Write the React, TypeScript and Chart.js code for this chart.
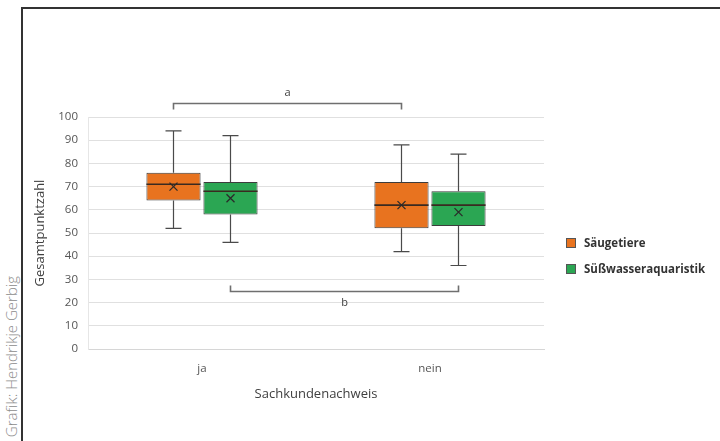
import React, { useEffect, useRef } from 'react';
import { Chart, registerables } from 'chart.js';

Chart.register(...registerables);

const categories = ['ja', 'nein'];
const seriesNames = ['Säugetiere', 'Süßwasseraquaristik'];
const seriesColors = ['#E8731F', '#2BA653'];

const saeugetiereMin = [52, 42];
const saeugetiereQ1 = [64, 52];
const saeugetiereMedian = [71, 62];
const saeugetiereQ3 = [76, 72];
const saeugetiereMax = [94, 88];
const saeugetiereMean = [70, 62];

const suesswasserMin = [46, 36];
const suesswasserQ1 = [58, 53];
const suesswasserMedian = [68, 62];
const suesswasserQ3 = [72, 68];
const suesswasserMax = [92, 84];
const suesswasserMean = [65, 59];

const yTicks = [0, 10, 20, 30, 40, 50, 60, 70, 80, 90, 100];

const bracketLabels = ['a', 'b'];
const bracketSeries = [0, 1];
const bracketValues = [106, 25];
const bracketDirections = [1, -1]; // 1: ticks point down, -1: ticks point up

const xTitle = 'Sachkundenachweis';
const yTitle = 'Gesamtpunktzahl';
const credit = 'Grafik: Hendrikje Gerbig';

const stats = [
  { min: saeugetiereMin, q1: saeugetiereQ1, med: saeugetiereMedian, q3: saeugetiereQ3, max: saeugetiereMax, mean: saeugetiereMean },
  { min: suesswasserMin, q1: suesswasserQ1, med: suesswasserMedian, q3: suesswasserQ3, max: suesswasserMax, mean: suesswasserMean },
];

const FONT = "'Open Sans', 'DejaVu Sans', sans-serif";

const boxPlugin = {
  id: 'boxExtras',
  afterDatasetsDraw(chart: any) {
    const ctx = chart.ctx;
    const y = chart.scales.y;
    ctx.save();
    stats.forEach((s, i) => {
      const meta = chart.getDatasetMeta(i);
      meta.data.forEach((el: any, j: number) => {
        const x = el.x;
        const w = el.width;
        const pMax = y.getPixelForValue(s.max[j]);
        const pQ3 = y.getPixelForValue(s.q3[j]);
        const pQ1 = y.getPixelForValue(s.q1[j]);
        const pMin = y.getPixelForValue(s.min[j]);
        const pMed = y.getPixelForValue(s.med[j]);
        const pMean = y.getPixelForValue(s.mean[j]);
        const cap = 8;
        ctx.strokeStyle = '#4a4a4a';
        ctx.lineWidth = 1.2;
        ctx.beginPath();
        ctx.moveTo(x, pMax);
        ctx.lineTo(x, pQ3);
        ctx.moveTo(x, pQ1);
        ctx.lineTo(x, pMin);
        ctx.moveTo(x - cap, pMax);
        ctx.lineTo(x + cap, pMax);
        ctx.moveTo(x - cap, pMin);
        ctx.lineTo(x + cap, pMin);
        ctx.stroke();
        // median
        ctx.strokeStyle = '#3a2a20';
        ctx.lineWidth = 1.6;
        ctx.beginPath();
        ctx.moveTo(x - w / 2, pMed);
        ctx.lineTo(x + w / 2, pMed);
        ctx.stroke();
        // mean marker x
        const m = 4;
        ctx.strokeStyle = '#2a2a2a';
        ctx.lineWidth = 1.3;
        ctx.beginPath();
        ctx.moveTo(x - m, pMean - m);
        ctx.lineTo(x + m, pMean + m);
        ctx.moveTo(x + m, pMean - m);
        ctx.lineTo(x - m, pMean + m);
        ctx.stroke();
      });
    });
    ctx.restore();
  },
  afterDraw(chart: any) {
    const ctx = chart.ctx;
    const y = chart.scales.y;
    ctx.save();
    bracketLabels.forEach((label, k) => {
      const meta = chart.getDatasetMeta(bracketSeries[k]);
      const x1 = meta.data[0].x;
      const x2 = meta.data[meta.data.length - 1].x;
      const py = Math.round(y.getPixelForValue(bracketValues[k])) + 0.5;
      const d = bracketDirections[k];
      const t = 6 * d;
      ctx.strokeStyle = '#6f6f6f';
      ctx.lineWidth = 1.6;
      ctx.beginPath();
      ctx.moveTo(x1, py + t);
      ctx.lineTo(x1, py);
      ctx.lineTo(x2, py);
      ctx.lineTo(x2, py + t);
      ctx.stroke();
      ctx.fillStyle = '#404040';
      ctx.font = `11px ${FONT}`;
      ctx.textAlign = 'center';
      ctx.textBaseline = 'middle';
      ctx.fillText(label, (x1 + x2) / 2, py - 11 * d);
    });
    ctx.restore();
  },
};

export default function App() {
  const canvasRef = useRef<HTMLCanvasElement | null>(null);

  useEffect(() => {
    document.body.style.margin = '0';
    const canvas = canvasRef.current;
    if (!canvas) return;
    const chart = new Chart(canvas, {
      type: 'bar',
      data: {
        labels: categories,
        datasets: stats.map((s, i) => ({
          label: seriesNames[i],
          data: categories.map((_, j) => [s.q1[j], s.q3[j]]),
          backgroundColor: seriesColors[i],
          borderColor: '#3c3c3c',
          borderWidth: 1,
          borderSkipped: false,
          categoryPercentage: 0.5,
          barPercentage: 0.95,
        })) as any,
      },
      options: {
        responsive: false,
        animation: false,
        layout: { padding: { left: 28, top: 117, right: 176, bottom: 35 } },
        plugins: {
          legend: { display: false },
          tooltip: { enabled: false },
        },
        scales: {
          x: {
            grid: { display: false },
            border: { display: true, color: '#d6d6d6' },
            ticks: { color: '#555555', font: { family: FONT, size: 11.5 }, padding: 5 },
            title: { display: true, text: xTitle, color: '#404040', font: { family: FONT, size: 13 } },
            afterFit: (scale: any) => { scale.height = 57; },
          },
          y: {
            min: 0,
            max: 100,
            afterBuildTicks: (scale: any) => { scale.ticks = yTicks.map((v) => ({ value: v })); },
            grid: { color: '#e0e0e0', drawTicks: false },
            border: { display: true, color: '#e6e6e6' },
            ticks: { color: '#555555', font: { family: FONT, size: 11.5 }, padding: 10 },
            title: { display: true, text: yTitle, color: '#404040', font: { family: FONT, size: 13 } },
            afterFit: (scale: any) => { scale.width = 60; },
          },
        },
      },
      plugins: [boxPlugin],
    });
    return () => chart.destroy();
  }, []);

  return (
    <div style={{ position: 'relative', width: 720, height: 441, overflow: 'hidden', background: '#ffffff', fontFamily: FONT }}>
      <div style={{ position: 'absolute', left: 21, top: 7, width: 760, height: 480, borderTop: '2px solid #333333', borderLeft: '2px solid #333333' }} />
      <div
        style={{
          position: 'absolute',
          left: 2,
          bottom: 4,
          writingMode: 'vertical-rl',
          transform: 'rotate(180deg)',
          fontSize: 15,
          fontWeight: 300,
          color: '#8c8c8c',
          whiteSpace: 'nowrap',
          lineHeight: '18px',
        }}
      >
        {credit}
      </div>
      <canvas ref={canvasRef} width={720} height={441} style={{ position: 'absolute', left: 0, top: 0 }} />
      <div style={{ position: 'absolute', left: 566, top: 235, fontSize: 11.5, fontWeight: 700, color: '#333333', whiteSpace: 'nowrap' }}>
        {seriesNames.map((name, i) => (
          <div key={name} style={{ display: 'flex', alignItems: 'center', height: 15, marginBottom: i === 0 ? 11 : 0 }}>
            <span style={{ display: 'inline-block', width: 8, height: 8, background: seriesColors[i], border: '0.5px solid #555', marginRight: 8 }} />
            <span>{name}</span>
          </div>
        ))}
      </div>
    </div>
  );
}
